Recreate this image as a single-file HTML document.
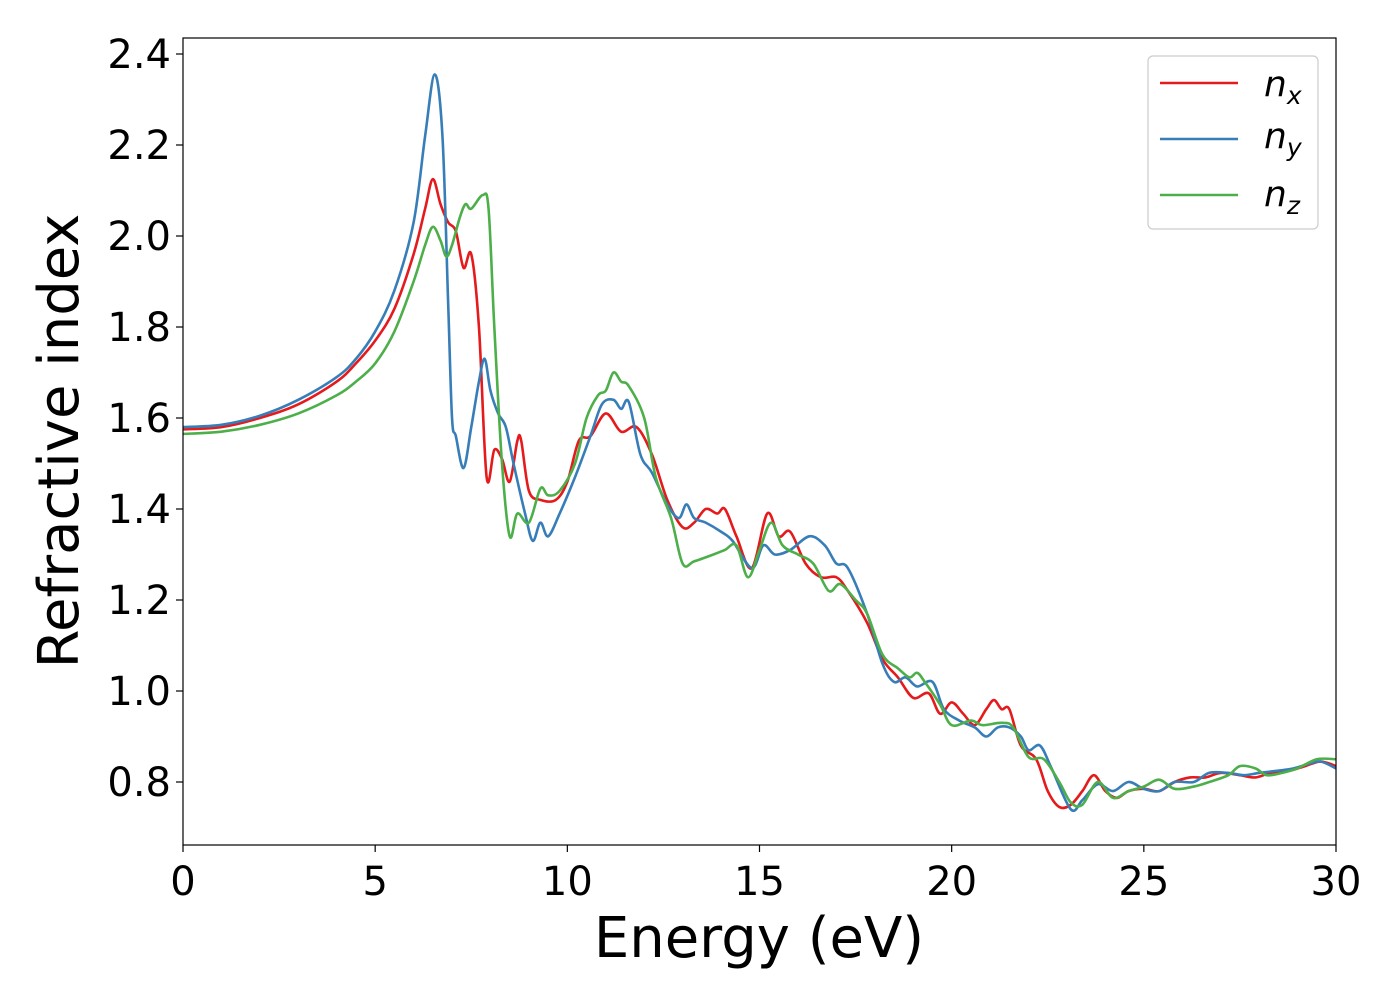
<!DOCTYPE html>
<html><head><meta charset="utf-8"><style>
body{margin:0;background:#fff}
svg text{font-family:"DejaVu Sans","Liberation Sans",sans-serif;fill:#000}
</style></head><body>
<svg id="chart" width="1400" height="1000" xmlns="http://www.w3.org/2000/svg">
<rect width="1400" height="1000" fill="#fff"/>
<g id="series"></g>
<g id="axes"></g>
<rect x="183" y="38" width="1153" height="807" fill="none" stroke="#000" stroke-width="1.2"/>
<text x="759" y="957" font-size="56" text-anchor="middle">Energy (eV)</text>
<text transform="translate(78,441) rotate(-90)" font-size="56" text-anchor="middle">Refractive index</text>
<g>
<rect x="1148" y="56" width="170" height="173" rx="5" fill="#fff" stroke="#ccc" stroke-width="1.2"/>
<line x1="1160" y1="83" x2="1238" y2="83" stroke="#e41a1c" stroke-width="2.5"/>
<text x="1264" y="96" font-size="36" font-style="italic">n<tspan font-size="25" dy="8">x</tspan></text>
<line x1="1160" y1="139" x2="1238" y2="139" stroke="#377eb8" stroke-width="2.5"/>
<text x="1264" y="148" font-size="36" font-style="italic">n<tspan font-size="25" dy="8">y</tspan></text>
<line x1="1160" y1="195" x2="1238" y2="195" stroke="#4daf4a" stroke-width="2.5"/>
<text x="1264" y="206" font-size="36" font-style="italic">n<tspan font-size="25" dy="8">z</tspan></text>
</g>
</svg>
<script>
const xTicks=[0,5,10,15,20,25,30];
const yTicks=[0.8,1.0,1.2,1.4,1.6,1.8,2.0,2.2,2.4];
const nxE=[0,1,2,3,4,4.5,5,5.5,6,6.3,6.5,6.7,6.9,7.1,7.3,7.5,7.7,7.9,8.1,8.3,8.5,8.7,8.8,9.0,9.3,9.7,10.0,10.3,10.6,11.0,11.4,11.8,12.2,12.6,13.0,13.3,13.6,13.9,14.1,14.4,14.8,15.2,15.5,15.8,16.2,16.6,17.0,17.3,17.8,18.2,18.6,19.0,19.4,19.7,20.0,20.3,20.6,20.9,21.1,21.3,21.5,21.8,22.2,22.5,22.8,23.1,23.4,23.7,24.0,24.3,24.6,25.0,25.4,25.8,26.2,26.6,27.0,27.5,27.9,28.3,28.8,29.2,29.6,30];
const nxV=[1.575,1.58,1.6,1.63,1.68,1.72,1.77,1.84,1.96,2.06,2.125,2.07,2.03,2.01,1.93,1.96,1.8,1.47,1.53,1.51,1.46,1.55,1.55,1.44,1.42,1.42,1.46,1.55,1.56,1.61,1.57,1.58,1.52,1.42,1.36,1.37,1.40,1.39,1.40,1.34,1.27,1.39,1.34,1.35,1.28,1.25,1.25,1.22,1.15,1.07,1.03,0.985,0.995,0.95,0.975,0.95,0.925,0.96,0.98,0.96,0.96,0.88,0.85,0.78,0.745,0.75,0.78,0.815,0.78,0.765,0.78,0.785,0.78,0.8,0.81,0.81,0.82,0.815,0.81,0.82,0.825,0.835,0.845,0.835];
const nyE=[0,1,2,3,4,4.5,5,5.5,6,6.3,6.55,6.75,6.9,7.0,7.1,7.3,7.5,7.7,7.85,8.0,8.2,8.4,8.6,8.9,9.1,9.3,9.5,9.8,10.2,10.6,10.9,11.2,11.4,11.6,11.9,12.2,12.6,12.9,13.1,13.3,13.6,14.0,14.3,14.8,15.1,15.4,15.8,16.3,16.7,17.0,17.3,17.8,18.2,18.5,18.8,19.1,19.5,19.8,20.2,20.6,20.9,21.2,21.5,21.8,22.0,22.3,22.6,23.1,23.4,23.8,24.2,24.6,25.0,25.4,25.8,26.3,26.7,27.2,27.6,28.0,28.5,28.9,29.3,29.6,30];
const nyV=[1.58,1.585,1.605,1.64,1.69,1.73,1.79,1.88,2.03,2.22,2.355,2.22,1.85,1.6,1.56,1.49,1.58,1.68,1.73,1.66,1.61,1.58,1.5,1.39,1.33,1.37,1.34,1.39,1.47,1.56,1.63,1.64,1.62,1.635,1.52,1.48,1.41,1.38,1.41,1.38,1.37,1.35,1.33,1.27,1.32,1.3,1.31,1.34,1.32,1.28,1.27,1.17,1.06,1.02,1.03,1.01,1.02,0.96,0.935,0.92,0.9,0.92,0.92,0.9,0.87,0.88,0.83,0.74,0.76,0.795,0.78,0.8,0.785,0.78,0.8,0.8,0.82,0.82,0.815,0.82,0.825,0.83,0.84,0.845,0.83];
const nzE=[0,1,2,3,4,4.5,5,5.5,6,6.3,6.5,6.7,6.85,7.0,7.2,7.35,7.5,7.8,7.95,8.1,8.3,8.5,8.7,9.0,9.3,9.5,9.8,10.2,10.5,10.8,11.0,11.2,11.4,11.6,12.0,12.3,12.7,13.0,13.3,13.8,14.1,14.4,14.7,15.0,15.3,15.6,16.0,16.4,16.8,17.1,17.5,17.8,18.2,18.6,18.9,19.1,19.3,19.7,20.0,20.5,20.8,21.3,21.6,22.0,22.4,22.8,23.1,23.4,23.8,24.2,24.6,25.0,25.4,25.8,26.3,26.7,27.2,27.5,27.9,28.2,28.6,29.0,29.5,30];
const nzV=[1.565,1.57,1.585,1.61,1.65,1.68,1.72,1.79,1.9,1.98,2.02,1.99,1.955,1.98,2.04,2.07,2.06,2.09,2.06,1.8,1.5,1.34,1.39,1.37,1.445,1.43,1.44,1.5,1.6,1.65,1.66,1.7,1.68,1.67,1.6,1.47,1.38,1.28,1.285,1.3,1.31,1.32,1.25,1.31,1.37,1.32,1.3,1.28,1.22,1.235,1.2,1.17,1.08,1.05,1.03,1.04,1.02,0.97,0.925,0.935,0.925,0.93,0.92,0.855,0.85,0.8,0.755,0.75,0.8,0.765,0.78,0.79,0.805,0.785,0.79,0.8,0.815,0.835,0.83,0.815,0.82,0.83,0.85,0.85];

const X0=183,X1=1336,Y0=845,Y1=38;
const xMin=0,xMax=30,yMin=0.8-63/455,yMax=2.4+16/455;
function xs(e){return X0+(e-xMin)/(xMax-xMin)*(X1-X0);}
function ys(v){return Y0-(v-yMin)/(yMax-yMin)*(Y0-Y1);}
const NS="http://www.w3.org/2000/svg";
function mk(t,a){const el=document.createElementNS(NS,t);for(const k in a)el.setAttribute(k,a[k]);return el;}
function smoothPath(E,V){
  const p=E.map((e,i)=>[xs(e),ys(V[i])]);
  let d="M"+p[0][0].toFixed(2)+","+p[0][1].toFixed(2);
  for(let i=0;i<p.length-1;i++){
    const p0=p[Math.max(0,i-1)],p1=p[i],p2=p[i+1],p3=p[Math.min(p.length-1,i+2)];
    const c1x=p1[0]+(p2[0]-p0[0])/6,c1y=p1[1]+(p2[1]-p0[1])/6;
    const c2x=p2[0]-(p3[0]-p1[0])/6,c2y=p2[1]-(p3[1]-p1[1])/6;
    d+=" C"+c1x.toFixed(2)+","+c1y.toFixed(2)+" "+c2x.toFixed(2)+","+c2y.toFixed(2)+" "+p2[0].toFixed(2)+","+p2[1].toFixed(2);
  }
  return d;
}
const sg=document.getElementById('series');
const defs=mk('defs',{});const cp=mk('clipPath',{id:'clip'});cp.appendChild(mk('rect',{x:X0,y:Y1,width:X1-X0,height:Y0-Y1}));defs.appendChild(cp);sg.appendChild(defs);
sg.setAttribute('clip-path','url(#clip)');
[[nxE,nxV,'#e41a1c','nx'],[nyE,nyV,'#377eb8','ny'],[nzE,nzV,'#4daf4a','nz']].forEach(s=>{
  const path=mk('path',{d:smoothPath(s[0],s[1]),fill:'none',stroke:s[2],'stroke-width':2.6,'stroke-linejoin':'round'});
  
  
  sg.appendChild(path);
});
const ag=document.getElementById('axes');
xTicks.forEach(t=>{
  const x=xs(t);
  const l=mk('line',{x1:x,y1:Y0,x2:x,y2:Y0+7,stroke:'#000','stroke-width':1.2});
  
  
  ag.appendChild(l);
  const tx=mk('text',{x:x,y:Y0+50,'font-size':40,'text-anchor':'middle'});
  tx.textContent=String(t);
  
  
  ag.appendChild(tx);
});
yTicks.forEach(t=>{
  const y=ys(t);
  const l=mk('line',{x1:X0-7,y1:y,x2:X0,y2:y,stroke:'#000','stroke-width':1.2});
  
  
  ag.appendChild(l);
  const tx=mk('text',{x:X0-12,y:y+14,'font-size':40,'text-anchor':'end'});
  tx.textContent=t.toFixed(1);
  
  
  ag.appendChild(tx);
});
</script>
</body></html>
